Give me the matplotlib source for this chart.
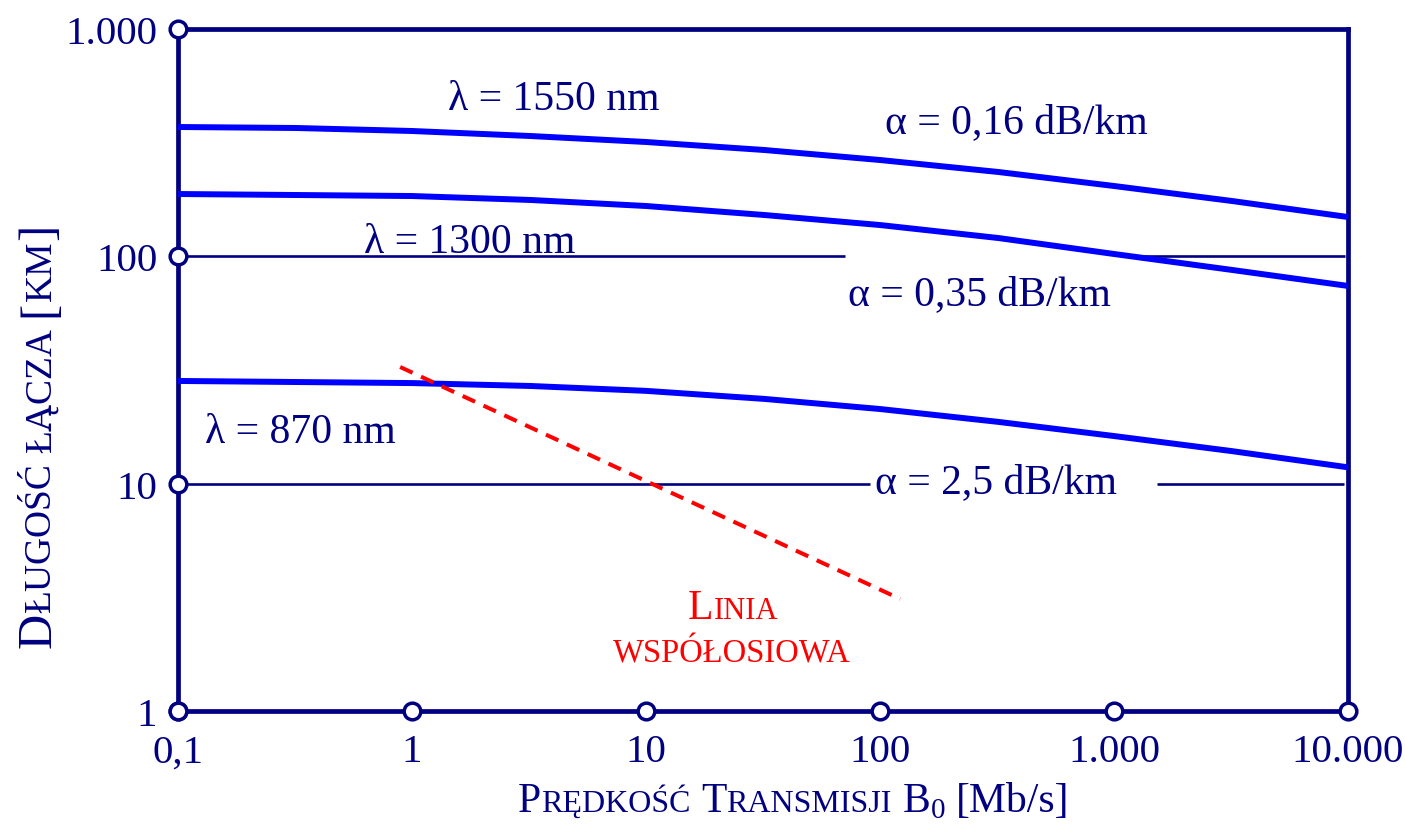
import matplotlib
matplotlib.use("Agg")
import matplotlib.pyplot as plt

plt.rcParams["font.family"] = ["Liberation Serif", "DejaVu Serif"]
plt.rcParams["mathtext.fontset"] = "custom"
plt.rcParams["mathtext.rm"] = "Liberation Serif"

NAVY = "#000080"
BLUE = "#0000FF"
RED = "#FF0000"

# ---------------------------
# DANE
# ---------------------------

predkosc = [0.1, 0.32, 1, 3.2, 10, 32, 100, 320, 1000, 3200, 10000]
dlugosc_1550 = [370.6, 366.9, 355.9, 338.3, 318.4, 293.6, 265.3, 235.0, 203.9, 175.1, 148.9]
dlugosc_1300 = [188.0, 186.1, 184.2, 177.0, 166.5, 152.0, 137.3, 120.4, 102.4, 87.1, 74.1]
dlugosc_870 = [28.3, 28.0, 27.7, 26.9, 25.6, 23.6, 21.3, 18.7, 16.2, 13.9, 11.8]

koncentryk_predkosc = [0.89, 122]
koncentryk_dlugosc = [32.6, 3.11]

x_ticks = [0.1, 1, 10, 100, 1000, 10000]
x_labels = ["0,1", "1", "10", "100", "1.000", "10.000"]
y_ticks = [1, 10, 100, 1000]
y_labels = ["1", "10", "100", "1.000"]

# ---------------------------
# WYKRES
# ---------------------------

fig = plt.figure(figsize=(14.05, 8.28), dpi=100)
ax = fig.add_axes([178 / 1405, 116 / 828, 1170 / 1405, 682 / 828])
ax.set_xscale("log")
ax.set_yscale("log")
ax.set_xlim(0.1, 10000)
ax.set_ylim(1, 1000)

for s in ax.spines.values():
    s.set_color(NAVY)
    s.set_linewidth(3.4)

# linie pomocnicze z przerwami na opisy
ax.hlines(100, 0.1, 70.8, color=NAVY, lw=1.9)
ax.hlines(100, 1194, 9710, color=NAVY, lw=1.9)
ax.hlines(10, 0.1, 90.6, color=NAVY, lw=1.9)
ax.hlines(10, 1528, 9620, color=NAVY, lw=1.9)

for d in [dlugosc_1550, dlugosc_1300, dlugosc_870]:
    ax.plot(predkosc, d, color=BLUE, lw=4.3, solid_capstyle="butt", clip_on=False, zorder=3)

ax.plot(koncentryk_predkosc, koncentryk_dlugosc, color=RED, lw=2.9,
        dashes=(3.4, 2.3), zorder=3)

# kółka na osiach
ax.plot(x_ticks, [1] * len(x_ticks), "o", ms=12, mfc="white", mec=NAVY, mew=2.5,
        clip_on=False, zorder=5)
ax.plot([0.1] * len(y_ticks), y_ticks, "o", ms=12, mfc="white", mec=NAVY, mew=2.5,
        clip_on=False, zorder=5)

ax.set_xticks(x_ticks, labels=x_labels)
ax.set_yticks(y_ticks, labels=y_labels)
ax.minorticks_off()
ax.tick_params(length=0, labelsize=29.5, labelcolor=NAVY)
ax.tick_params(axis="x", pad=16)
ax.tick_params(axis="y", pad=15)

# opisy krzywych
opisy = [
    (4.04, 492, r"λ = 1550 nm"),
    (381, 390, r"α = 0,16 dB/km"),
    (1.77, 116, r"λ = 1300 nm"),
    (267, 68.3, r"α = 0,35 dB/km"),
    (0.332, 16.9, r"λ = 870 nm"),
    (313, 10.2, r"α = 2,5 dB/km"),
]
for x, y, t in opisy:
    ax.text(x, y, t, fontsize=30, color=NAVY, ha="center", va="center")

DESC = 0.216  # zejście czcionki (ułamek rozmiaru)


def kapitaliki(pierwszy, czesci, pion=False):
    prev = pierwszy
    prev_size = pierwszy.get_fontsize()
    for txt, size, gap in czesci:
        shift = DESC * (prev_size - size)
        if pion:
            prev = ax.annotate(txt, xy=(1, 1), xycoords=prev, xytext=(-shift, gap),
                               textcoords="offset points", rotation=90,
                               ha="right", va="bottom", fontsize=size,
                               color=prev.get_color())
        else:
            prev = ax.annotate(txt, xy=(1, 0), xycoords=prev, xytext=(gap, shift),
                               textcoords="offset points", ha="left", va="bottom",
                               fontsize=size, color=prev.get_color())
        prev_size = size
    return prev


# linia współosiowa
t = fig.text(688 / 1405, 1 - 628 / 828, "L", fontsize=30, color=RED, ha="left", va="bottom")
kapitaliki(t, [("INIA", 22, 0)])
fig.text(732 / 1405, 1 - 654 / 828, "WSPÓŁOSIOWA", fontsize=23.5, color=RED,
         ha="center", va="center")

# oś X
t = fig.text(518 / 1405, 1 - 821 / 828, "P", fontsize=30, color=NAVY, ha="left", va="bottom")
kapitaliki(t, [("RĘDKOŚĆ", 23, 0), ("T", 30, 7.5), ("RANSMISJI", 23, 0),
               (r"B$_0$", 30, 7.5), ("[Mb/s]", 30, 7.5)])

# oś Y
t = fig.text(17 / 1405, 1 - 648 / 828, "D", fontsize=35, color=NAVY, rotation=90,
             ha="left", va="bottom")
kapitaliki(t, [("ŁUGOŚĆ", 27, 0), ("ŁĄCZA", 27, 7), ("[", 35, 8),
               ("KM", 27, 0), ("]", 35, 0)], pion=True)

fig.savefig("out.png", dpi=100, facecolor="white")
